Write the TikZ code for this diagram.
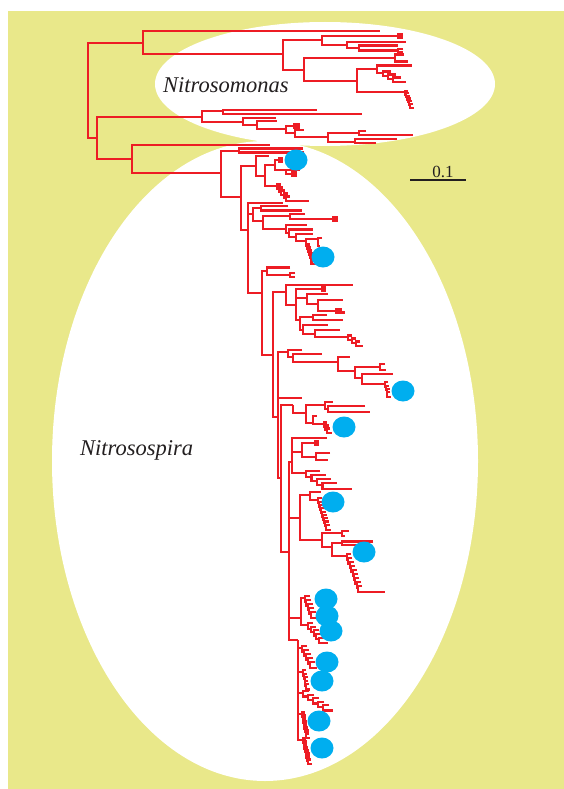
\documentclass[tikz,border=0pt]{standalone}
\usepackage{fontspec}
\setmainfont{Liberation Serif}
\definecolor{bgyel}{RGB}{233,232,138}
\definecolor{treered}{RGB}{237,28,36}
\definecolor{dotblue}{RGB}{0,174,239}
\definecolor{txt}{RGB}{35,31,32}
\tikzset{
  br/.style={draw=treered, line width=2.1pt, line join=miter, line cap=butt},
  dot/.style={fill=dotblue},
  clade/.style={text=txt, inner sep=0pt, font=\fontsize{22.5}{24}\selectfont\itshape},
}
\newcommand\E[4]{\draw[br] (#1,#2) |- (#3,#4);}
\newcommand\twig[5]{\draw[br] (#4,#2) -| (#1,#3) -- (#5,#3);}
\newcommand\fork[4]{\twig{#1}{#2-#4}{#2+#4}{#1+#3}{#1+#3}}
\newcommand\comb[7]{%
 \foreach \cI in {1,...,#3}{%
  \draw[br] ({#1+(\cI-1)*#4+#6},{#2+(\cI-1)*#5-#5/2}) -| ({#1+(\cI-1)*#4},{#2+\cI*#5}) -- ({#1+\cI*#4},{#2+\cI*#5});
 }%
 \draw[br] ({#1+#3*#4},{#2+#3*#5}) -- ++(#7,0);
}
\newcommand\bdot[2]{\fill[dot] (#1,#2) ellipse [x radius=11.5, y radius=10.5];}
\begin{document}
\begin{tikzpicture}[x=1pt,y=-1pt]
\useasboundingbox (0,0) rectangle (564,789);
\fill[white] (0,0) rectangle (564,789);
\fill[bgyel] (8,11) rectangle (564,789);
\fill[white] (325,84) ellipse [x radius=170, y radius=62];
\fill[white] (265,461) ellipse [x radius=213, y radius=320];

% ---------- root and Nitrosomonas ----------
\E{88}{90}{143}{43}
\E{88}{90}{97}{138}
\E{143}{43}{380}{31}
\E{143}{43}{283}{54}
\E{283}{54}{322}{40}
\E{283}{54}{304}{70}
\E{322}{40}{398}{36} \fork{398}{36}{5}{1.5}
\E{322}{40}{347}{45}
\E{347}{45}{406}{42}
\E{347}{45}{359}{48}
\E{359}{48}{398}{45.5}
\E{359}{48}{398}{50.5} \fork{398}{50.5}{5}{1.5}
\E{304}{70}{395}{58} \twig{395}{54.5}{61.5}{404}{408}
\E{304}{70}{357}{81}
\E{357}{81}{377}{69}
\E{357}{81}{405}{92}
\E{377}{69}{412}{65.5}
\E{377}{69}{383}{73}
\comb{383}{73}{3}{5}{3}{8}{8}
\comb{405}{92}{6}{1}{2.6}{3}{3}

% ---------- lower part of upper clade ----------
\E{97}{138}{202}{117}
\E{97}{138}{132}{159}
\E{202}{117}{223}{111}
\E{202}{117}{243}{122}
\twig{223}{110}{114}{317}{362}
\E{243}{122}{276}{118}
\E{243}{122}{257}{125}
\E{257}{125}{277}{121}
\E{257}{125}{286}{129}
\E{286}{129}{294}{126} \fork{294}{126}{6}{1.5}
\E{286}{129}{295}{133}
\E{295}{133}{304}{130}
\E{295}{133}{328}{137}
\E{328}{137}{359}{133} \twig{359}{131}{135}{366}{413}
\E{328}{137}{355}{142} \twig{355}{139}{143}{397}{376}

% ---------- Nitrosospira ----------
\E{132}{159}{270}{145}
\E{132}{159}{221}{173}
\E{221}{173}{239}{151} \twig{239}{148.5}{152.5}{303}{304}
\E{221}{173}{241}{197}
\E{241}{197}{256}{166}
\E{241}{197}{248}{230}
\E{256}{166}{269}{156}
\E{256}{166}{265}{176}
\E{265}{176}{275}{165}
\E{265}{176}{277}{186}
\twig{275}{160}{170}{279}{300} \fork{279}{160}{4}{1.5}
\E{286}{170}{292}{174} \fork{292}{174}{5}{1.5}
\comb{277}{186}{5}{2.2}{3}{4}{21}

\E{248}{230}{283}{203}
\E{248}{230}{253}{214}
\E{253}{214}{261}{208} \twig{261}{206}{210.5}{288}{302}
\E{253}{214}{263}{221}
\E{263}{221}{290}{216} \twig{290}{214}{219}{305}{333} \fork{333}{219}{5}{1.5}
\E{263}{221}{286}{229}
\E{286}{229}{307}{225}
\E{286}{229}{289}{233}
\E{289}{233}{313}{229.5}
\E{289}{233}{296}{237}
\E{296}{237}{313}{234}
\E{296}{237}{306}{241}
\E{306}{241}{318}{239} \twig{318}{238}{246}{322}{320}
\E{306}{241}{307}{246}
\comb{307}{246}{6}{0.9}{3}{3}{4}

\E{248}{230}{262}{293}
\E{262}{293}{267}{271} \twig{267}{267.5}{275}{290}{290} \fork{290}{275}{5}{1.8}
\E{262}{293}{273}{355}
\E{273}{355}{286}{292}
\E{273}{355}{278}{417}

% clade 285-345
\E{286}{292}{353}{285}
\E{286}{292}{296}{305}
\E{296}{305}{322}{289} \fork{322}{289}{4}{1.5}
\E{296}{305}{307}{298}
\E{307}{298}{328}{294}
\E{307}{298}{318}{304}
\E{318}{304}{343}{300}
\E{318}{304}{336}{311} \twig{336}{309.5}{312.5}{342}{345}
\E{296}{305}{300}{320}
\E{300}{320}{313}{317} \twig{313}{315}{320}{327}{343}
\E{300}{320}{303}{330}
\E{303}{330}{328}{325}
\E{303}{330}{315}{334} \twig{315}{330}{337}{340}{348}
\comb{348}{337}{3}{4}{3}{4}{3}

% clade 350-400
\E{278}{417}{288}{352}
\E{278}{417}{302}{398}
\E{278}{417}{281}{478}
\E{288}{352}{302}{350}
\E{288}{352}{293}{357}
\E{293}{357}{322}{354}
\E{293}{357}{338}{362}
\E{338}{362}{350}{357}
\E{338}{362}{355}{371}
\E{355}{371}{380}{367} \twig{380}{364}{370}{385}{386}
\E{355}{371}{362}{378}
\E{362}{378}{393}{374}
\E{362}{378}{385}{384}
\comb{385}{384}{4}{0.8}{3.2}{3}{3}

% clade 400-435
\E{281}{478}{293}{405}
\E{281}{478}{289}{552}
\E{293}{405}{306}{413}
\E{306}{413}{325}{405}
\E{325}{405}{333}{402}
\E{325}{405}{328}{409} \twig{328}{406}{412}{365}{370}
\E{306}{413}{313}{423}
\E{313}{423}{317}{416}
\E{313}{423}{324}{424}
\comb{324}{424}{3}{1.5}{3}{3}{3}

% clade 438-490
\E{289}{552}{292}{462}
\E{292}{462}{327}{438}
\E{292}{462}{302}{452}
\E{302}{452}{315}{443} \fork{315}{443}{4}{1.5}
\E{302}{452}{316}{457} \twig{316}{453}{460}{330}{328}
\E{292}{462}{306}{473}
\comb{306}{473}{4}{5.5}{4}{14}{24}

% clades 490-595
\E{289}{552}{300}{518}
\E{300}{518}{310}{495}
\E{310}{495}{321}{492}
\E{310}{495}{318}{500}
\comb{318}{500}{9}{1}{3.3}{4}{4}
\E{300}{518}{322}{540}
\E{322}{540}{342}{533} \twig{342}{531}{536}{349}{345}
\E{322}{540}{332}{547}
\E{332}{547}{342}{543} \twig{342}{541.5}{545}{373}{360}
\E{332}{547}{347}{556}
\comb{347}{556}{9}{1.4}{4}{4}{25}

% clusters 595-765
\E{289}{552}{301}{618}
\E{301}{618}{305}{598}
\comb{305}{598}{5}{1.4}{4}{5}{5}
\E{301}{618}{308}{625}
\comb{308}{625}{5}{2.8}{3.6}{5}{6}
\E{289}{552}{298}{640}
\E{298}{640}{302}{648}
\comb{302}{648}{5}{2}{4}{5}{5}
\E{298}{640}{303}{672}
\comb{303}{672}{5}{0.8}{3.5}{3}{3}
\E{298}{640}{303}{693}
\comb{303}{693}{5}{5}{3.5}{6}{5}
\E{298}{640}{302}{714}
\comb{302}{714}{8}{0.6}{3}{3}{3}
\E{298}{640}{303}{740}
\comb{303}{740}{8}{0.7}{3}{3}{3}

% ---------- blue dots ----------
\bdot{296}{160}
\bdot{323}{257}
\bdot{403}{391}
\bdot{344}{427}
\bdot{333}{502}
\bdot{364}{552}
\bdot{326}{599}
\bdot{327}{616}
\bdot{331}{631}
\bdot{327}{662}
\bdot{322}{681}
\bdot{319}{721}
\bdot{322}{748}

% ---------- labels ----------
\node[clade, anchor=base west] (somonas) at (163,93) {Nitrosomonas};
\node[clade, anchor=base west] (sospira) at (80,455) {Nitrosospira};
\coordinate (sbl) at (410,180);
\coordinate (sbr) at (466,180);
\draw[line width=2pt, txt] (sbl) -- (sbr);
\node[text=txt, inner sep=0pt, anchor=base, font=\fontsize{17}{18}\selectfont] (sbtxt) at (443,177) {0.1};
\end{tikzpicture}
\end{document}
